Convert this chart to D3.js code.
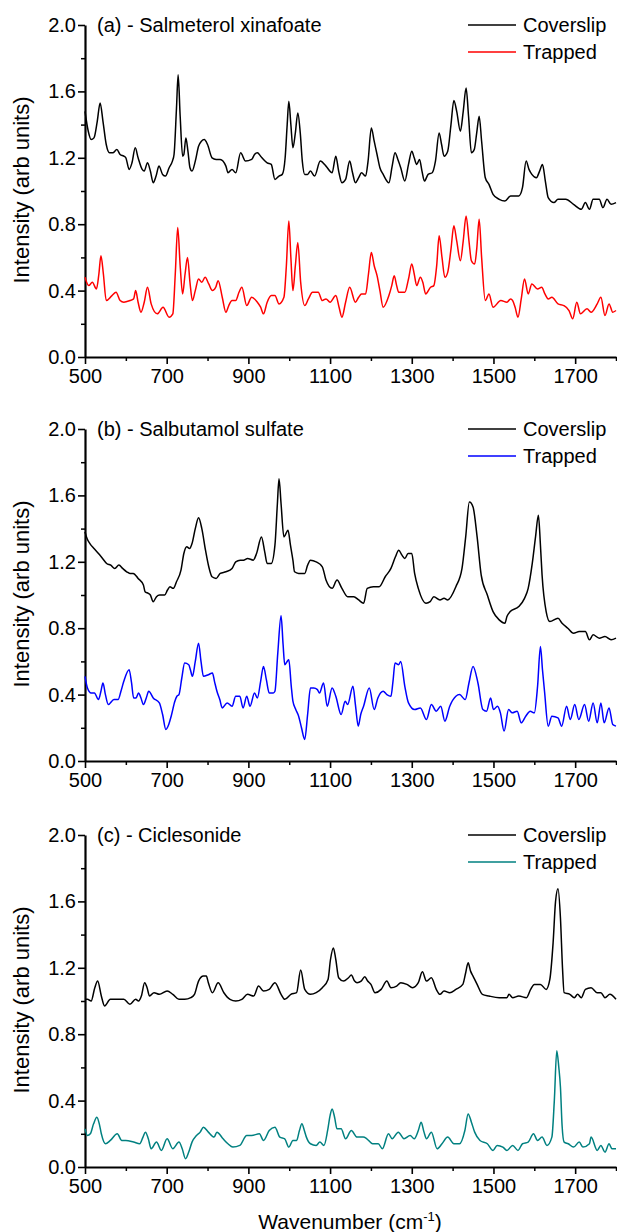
<!DOCTYPE html>
<html>
<head>
<meta charset="utf-8">
<script src="https://cdn.jsdelivr.net/npm/d3@7"></script>
<style>
  html, body { margin: 0; padding: 0; background: #fff; }
  svg text { font-family: "Liberation Sans", Arial, sans-serif; fill: #000; }
</style>
</head>
<body>
<svg id="chart" width="617" height="1232"></svg>
<script>
// ---------- data (wavenumber, intensity) ----------
const xMajorTicks = [500, 700, 900, 1100, 1300, 1500, 1700];
const xMinorTicks = [600, 800, 1000, 1200, 1400, 1600, 1800];
const yMajorTicks = [0.0, 0.4, 0.8, 1.2, 1.6, 2.0];
const yMinorTicks = [0.2, 0.6, 1.0, 1.4, 1.8];
const panelTitles = ["(a) - Salmeterol xinafoate", "(b) - Salbutamol sulfate", "(c) - Ciclesonide"];
const seriesNames = ["Coverslip", "Trapped"];
const trappedColors = ["#ff0000", "#0000ff", "#008080"];

const aCoverslip = [[500,1.48],[508,1.36],[515,1.31],[522,1.32],[530,1.42],[537,1.53],[544,1.42],[552,1.28],[560,1.23],[568,1.23],[578,1.25],[586,1.22],[595,1.21],[600,1.20],[608,1.13],[615,1.17],[623,1.26],[630,1.20],[640,1.13],[645,1.12],[653,1.17],[660,1.12],[667,1.05],[674,1.09],[681,1.15],[690,1.10],[697,1.09],[706,1.14],[714,1.18],[718,1.22],[724,1.50],[728,1.70],[733,1.45],[739,1.21],[742,1.22],[747,1.32],[752,1.24],[757,1.14],[762,1.12],[770,1.18],[778,1.27],[785,1.30],[792,1.31],[800,1.28],[811,1.20],[821,1.19],[831,1.19],[845,1.15],[850,1.11],[860,1.13],[869,1.11],[881,1.23],[893,1.18],[908,1.19],[915,1.22],[922,1.23],[930,1.21],[937,1.19],[946,1.17],[956,1.16],[965,1.07],[975,1.09],[983,1.10],[990,1.20],[995,1.40],[999,1.54],[1004,1.40],[1009,1.26],[1015,1.35],[1021,1.47],[1027,1.35],[1032,1.18],[1038,1.10],[1045,1.10],[1052,1.12],[1062,1.09],[1076,1.18],[1090,1.15],[1105,1.11],[1114,1.21],[1121,1.12],[1129,1.05],[1138,1.07],[1148,1.18],[1155,1.11],[1162,1.05],[1170,1.08],[1177,1.11],[1187,1.09],[1193,1.18],[1201,1.38],[1208,1.30],[1215,1.22],[1222,1.14],[1230,1.10],[1244,1.05],[1252,1.15],[1259,1.23],[1266,1.19],[1273,1.14],[1283,1.06],[1292,1.16],[1300,1.24],[1306,1.20],[1312,1.16],[1319,1.19],[1325,1.12],[1331,1.06],[1340,1.10],[1350,1.11],[1358,1.18],[1367,1.35],[1373,1.28],[1379,1.21],[1388,1.24],[1396,1.40],[1403,1.545],[1410,1.48],[1419,1.36],[1426,1.48],[1433,1.62],[1439,1.45],[1446,1.23],[1453,1.25],[1459,1.35],[1465,1.45],[1471,1.30],[1480,1.08],[1489,1.04],[1499,0.98],[1514,0.95],[1528,0.94],[1542,0.97],[1562,0.97],[1571,1.02],[1580,1.18],[1587,1.13],[1594,1.10],[1605,1.08],[1613,1.12],[1620,1.16],[1627,1.06],[1634,0.96],[1648,0.93],[1658,0.95],[1677,0.95],[1696,0.92],[1715,0.89],[1725,0.93],[1735,0.89],[1744,0.95],[1759,0.95],[1768,0.90],[1778,0.95],[1788,0.92],[1800,0.93]];

const aTrapped = [[500,0.48],[509,0.43],[518,0.45],[528,0.41],[534,0.50],[539,0.61],[545,0.50],[552,0.34],[566,0.37],[576,0.39],[586,0.34],[595,0.33],[610,0.34],[619,0.35],[624,0.40],[630,0.33],[637,0.27],[645,0.33],[653,0.42],[662,0.32],[677,0.26],[691,0.30],[706,0.24],[715,0.26],[721,0.50],[727,0.78],[733,0.55],[739,0.38],[745,0.50],[751,0.60],[757,0.45],[763,0.34],[770,0.40],[778,0.47],[786,0.45],[794,0.48],[803,0.44],[812,0.40],[820,0.42],[826,0.46],[836,0.36],[845,0.27],[852,0.31],[860,0.34],[869,0.34],[877,0.39],[884,0.42],[896,0.31],[908,0.36],[922,0.33],[930,0.30],[937,0.26],[946,0.33],[956,0.37],[965,0.37],[975,0.32],[987,0.36],[993,0.55],[999,0.82],[1004,0.60],[1009,0.40],[1015,0.55],[1021,0.69],[1028,0.45],[1038,0.31],[1047,0.35],[1057,0.39],[1071,0.39],[1081,0.34],[1090,0.35],[1100,0.33],[1114,0.37],[1122,0.30],[1129,0.24],[1138,0.33],[1148,0.42],[1162,0.33],[1170,0.36],[1177,0.38],[1187,0.38],[1194,0.50],[1201,0.63],[1208,0.55],[1215,0.49],[1222,0.40],[1230,0.30],[1244,0.37],[1251,0.43],[1257,0.49],[1263,0.43],[1268,0.39],[1283,0.39],[1292,0.47],[1300,0.56],[1306,0.50],[1312,0.43],[1321,0.48],[1327,0.45],[1334,0.38],[1346,0.42],[1354,0.43],[1361,0.55],[1367,0.73],[1374,0.60],[1381,0.48],[1388,0.51],[1396,0.65],[1403,0.79],[1410,0.70],[1419,0.58],[1426,0.70],[1433,0.85],[1440,0.70],[1446,0.58],[1454,0.56],[1459,0.65],[1465,0.83],[1471,0.60],[1480,0.34],[1489,0.38],[1499,0.30],[1518,0.34],[1533,0.33],[1542,0.35],[1547,0.34],[1553,0.30],[1560,0.24],[1568,0.35],[1576,0.47],[1585,0.38],[1594,0.44],[1608,0.41],[1618,0.42],[1626,0.38],[1634,0.35],[1643,0.36],[1658,0.32],[1672,0.31],[1685,0.28],[1694,0.23],[1704,0.33],[1713,0.26],[1729,0.29],[1739,0.27],[1754,0.32],[1763,0.36],[1773,0.25],[1783,0.32],[1792,0.27],[1800,0.28]];

const bCoverslip = [[500,1.38],[505,1.34],[512,1.31],[522,1.28],[533,1.25],[543,1.22],[553,1.19],[563,1.18],[573,1.16],[583,1.18],[592,1.16],[602,1.14],[610,1.13],[618,1.13],[630,1.10],[643,1.06],[647,1.02],[655,1.01],[660,1.00],[667,0.96],[675,0.99],[683,1.00],[695,1.00],[702,1.03],[708,1.05],[716,1.04],[724,1.08],[735,1.15],[742,1.25],[749,1.29],[756,1.28],[762,1.31],[770,1.40],[778,1.465],[786,1.40],[795,1.27],[803,1.17],[811,1.11],[821,1.10],[831,1.13],[845,1.14],[860,1.16],[869,1.20],[880,1.21],[888,1.21],[898,1.22],[912,1.21],[920,1.25],[932,1.35],[940,1.26],[946,1.19],[956,1.19],[965,1.30],[971,1.55],[975,1.70],[980,1.55],[987,1.35],[997,1.39],[1003,1.30],[1009,1.21],[1013,1.14],[1023,1.13],[1038,1.13],[1045,1.18],[1052,1.21],[1066,1.20],[1081,1.17],[1090,1.09],[1105,1.04],[1117,1.09],[1129,1.04],[1143,0.99],[1158,0.99],[1170,0.97],[1182,0.95],[1191,1.04],[1206,1.05],[1220,1.05],[1235,1.11],[1249,1.16],[1260,1.23],[1268,1.27],[1276,1.24],[1283,1.22],[1291,1.25],[1300,1.25],[1307,1.13],[1316,1.04],[1335,0.95],[1345,0.96],[1354,0.99],[1369,0.97],[1379,0.98],[1388,0.97],[1408,1.05],[1423,1.16],[1432,1.35],[1441,1.56],[1450,1.53],[1460,1.35],[1470,1.12],[1485,1.00],[1499,0.90],[1514,0.85],[1528,0.83],[1533,0.87],[1541,0.90],[1562,0.93],[1576,0.98],[1585,1.04],[1595,1.19],[1603,1.35],[1610,1.48],[1615,1.30],[1619,1.12],[1629,0.90],[1638,0.84],[1658,0.86],[1668,0.83],[1682,0.80],[1696,0.77],[1710,0.78],[1725,0.78],[1735,0.73],[1744,0.76],[1759,0.74],[1773,0.75],[1788,0.73],[1800,0.74]];

const bTrapped = [[500,0.51],[506,0.44],[515,0.41],[523,0.41],[533,0.37],[539,0.42],[544,0.47],[550,0.40],[557,0.34],[571,0.37],[581,0.37],[588,0.42],[595,0.48],[608,0.55],[614,0.47],[619,0.38],[625,0.38],[631,0.41],[637,0.38],[643,0.34],[650,0.38],[656,0.42],[667,0.38],[682,0.35],[690,0.28],[698,0.19],[705,0.22],[711,0.27],[720,0.36],[725,0.39],[730,0.40],[737,0.50],[744,0.59],[754,0.58],[758,0.55],[763,0.51],[770,0.60],[778,0.71],[784,0.60],[790,0.51],[802,0.52],[812,0.53],[817,0.48],[823,0.42],[830,0.37],[836,0.32],[848,0.35],[860,0.33],[869,0.39],[879,0.39],[887,0.32],[896,0.39],[904,0.33],[915,0.41],[922,0.38],[930,0.48],[937,0.57],[944,0.49],[951,0.41],[961,0.41],[965,0.42],[972,0.65],[980,0.875],[985,0.70],[989,0.58],[995,0.60],[999,0.61],[1005,0.45],[1009,0.36],[1016,0.31],[1023,0.27],[1030,0.20],[1038,0.13],[1045,0.28],[1052,0.44],[1060,0.44],[1069,0.43],[1074,0.41],[1084,0.47],[1093,0.33],[1105,0.44],[1114,0.39],[1127,0.28],[1137,0.36],[1143,0.34],[1156,0.45],[1162,0.34],[1169,0.21],[1175,0.28],[1182,0.33],[1196,0.44],[1208,0.31],[1217,0.38],[1230,0.42],[1239,0.40],[1249,0.39],[1254,0.48],[1259,0.59],[1268,0.58],[1273,0.60],[1283,0.45],[1292,0.35],[1307,0.31],[1321,0.32],[1336,0.25],[1348,0.34],[1360,0.30],[1371,0.33],[1381,0.24],[1393,0.33],[1408,0.39],[1417,0.40],[1431,0.37],[1440,0.47],[1450,0.57],[1462,0.47],[1474,0.31],[1483,0.30],[1493,0.38],[1500,0.31],[1510,0.33],[1517,0.29],[1526,0.18],[1537,0.31],[1546,0.29],[1558,0.30],[1568,0.23],[1579,0.27],[1590,0.30],[1600,0.29],[1608,0.45],[1615,0.69],[1620,0.55],[1625,0.42],[1634,0.21],[1643,0.27],[1658,0.26],[1667,0.21],[1679,0.33],[1688,0.25],[1699,0.34],[1709,0.25],[1723,0.34],[1733,0.24],[1744,0.35],[1754,0.23],[1763,0.35],[1771,0.23],[1783,0.32],[1792,0.22],[1800,0.21]];

const cCoverslip = [[500,1.01],[506,1.01],[515,1.00],[524,1.08],[531,1.12],[540,1.03],[548,0.97],[562,1.01],[581,1.01],[595,1.01],[610,0.98],[624,1.01],[631,1.00],[638,1.03],[646,1.11],[652,1.08],[658,1.03],[669,1.05],[682,1.04],[701,1.06],[715,1.04],[730,1.01],[744,1.01],[759,1.02],[768,1.04],[778,1.12],[790,1.15],[797,1.15],[802,1.11],[812,1.05],[826,1.11],[840,1.05],[855,1.01],[869,1.00],[884,1.01],[898,1.04],[913,1.03],[925,1.09],[937,1.06],[951,1.07],[965,1.11],[980,1.04],[989,1.01],[1004,1.04],[1018,1.05],[1028,1.186],[1038,1.07],[1052,1.04],[1066,1.05],[1081,1.08],[1095,1.13],[1101,1.25],[1108,1.32],[1114,1.25],[1121,1.14],[1133,1.12],[1145,1.14],[1152,1.156],[1160,1.12],[1166,1.11],[1176,1.12],[1185,1.146],[1192,1.12],[1200,1.10],[1210,1.05],[1225,1.07],[1239,1.12],[1249,1.08],[1263,1.09],[1273,1.11],[1288,1.10],[1302,1.08],[1316,1.11],[1326,1.176],[1336,1.12],[1348,1.14],[1360,1.07],[1369,1.04],[1379,1.06],[1393,1.05],[1408,1.07],[1425,1.10],[1432,1.17],[1438,1.23],[1444,1.18],[1450,1.15],[1460,1.10],[1473,1.04],[1489,1.03],[1514,1.02],[1533,1.02],[1538,1.04],[1547,1.02],[1562,1.03],[1581,1.02],[1591,1.07],[1600,1.10],[1615,1.10],[1629,1.07],[1638,1.13],[1646,1.35],[1652,1.60],[1658,1.676],[1664,1.50],[1669,1.20],[1673,1.05],[1687,1.04],[1698,1.02],[1706,1.04],[1715,1.02],[1725,1.07],[1739,1.08],[1754,1.05],[1763,1.05],[1773,1.02],[1785,1.04],[1800,1.01]];

const cTrapped = [[500,0.23],[506,0.19],[513,0.20],[521,0.26],[529,0.30],[535,0.26],[540,0.20],[550,0.14],[562,0.16],[579,0.20],[590,0.16],[600,0.16],[619,0.15],[634,0.14],[642,0.18],[648,0.21],[655,0.17],[662,0.11],[675,0.15],[687,0.10],[701,0.17],[715,0.11],[730,0.15],[738,0.11],[746,0.05],[754,0.09],[762,0.15],[773,0.19],[782,0.21],[790,0.24],[802,0.21],[816,0.18],[823,0.21],[838,0.17],[850,0.14],[862,0.12],[879,0.13],[896,0.19],[908,0.19],[927,0.20],[937,0.16],[951,0.22],[965,0.24],[977,0.18],[989,0.17],[999,0.12],[1009,0.16],[1018,0.16],[1025,0.22],[1031,0.26],[1037,0.22],[1042,0.18],[1052,0.14],[1066,0.13],[1075,0.15],[1085,0.13],[1094,0.22],[1100,0.31],[1105,0.35],[1111,0.30],[1117,0.23],[1127,0.23],[1138,0.17],[1152,0.22],[1166,0.18],[1181,0.18],[1190,0.17],[1204,0.14],[1218,0.14],[1228,0.11],[1243,0.20],[1252,0.17],[1267,0.21],[1281,0.17],[1296,0.19],[1306,0.17],[1316,0.22],[1323,0.27],[1330,0.21],[1336,0.17],[1348,0.21],[1362,0.11],[1374,0.14],[1388,0.18],[1403,0.14],[1417,0.14],[1430,0.22],[1438,0.32],[1446,0.27],[1454,0.21],[1467,0.16],[1485,0.14],[1499,0.10],[1509,0.13],[1523,0.12],[1533,0.10],[1547,0.13],[1560,0.10],[1571,0.14],[1585,0.15],[1598,0.20],[1608,0.16],[1619,0.18],[1631,0.13],[1643,0.18],[1649,0.40],[1655,0.70],[1660,0.60],[1664,0.48],[1668,0.25],[1673,0.15],[1683,0.14],[1696,0.12],[1710,0.15],[1719,0.12],[1735,0.14],[1739,0.18],[1754,0.10],[1763,0.13],[1773,0.09],[1783,0.14],[1790,0.11],[1800,0.11]];

const coverslipSeries = [aCoverslip, bCoverslip, cCoverslip];
const trappedSeries = [aTrapped, bTrapped, cTrapped];

// ---------- layout ----------
const svg = d3.select("#chart");
const plotLeft = 85, plotRight = 616;
const panelTops = [25, 429, 835];
const panelH = 332;
const FONT = 20;

const x = d3.scaleLinear().domain([500, 1800]).range([plotLeft, plotRight]);

panelTitles.forEach((title, i) => {
  const top = panelTops[i];
  const y = d3.scaleLinear().domain([0, 2]).range([top + panelH, top]);
  const g = svg.append("g");

  // minor ticks
  g.append("g")
    .attr("transform", `translate(0,${top + panelH})`)
    .call(d3.axisBottom(x).tickValues(xMinorTicks).tickSize(4).tickSizeOuter(0).tickFormat(""))
    .call(s => s.select(".domain").remove())
    .call(s => s.selectAll("line").attr("stroke-width", 1.5));
  g.append("g")
    .attr("transform", `translate(${plotLeft},0)`)
    .call(d3.axisLeft(y).tickValues(yMinorTicks).tickSize(4).tickSizeOuter(0).tickFormat(""))
    .call(s => s.select(".domain").remove())
    .call(s => s.selectAll("line").attr("stroke-width", 1.5));

  // major axes
  const xa = g.append("g")
    .attr("transform", `translate(0,${top + panelH})`)
    .call(d3.axisBottom(x).tickValues(xMajorTicks).tickSize(7).tickSizeOuter(0).tickPadding(5).tickFormat(d3.format("d")));
  const ya = g.append("g")
    .attr("transform", `translate(${plotLeft},0)`)
    .call(d3.axisLeft(y).tickValues(yMajorTicks).tickSize(7).tickSizeOuter(0).tickPadding(2).tickFormat(d3.format(".1f")));
  [xa, ya].forEach(a => {
    a.select(".domain").attr("stroke-width", 2.2);
    a.selectAll("line").attr("stroke-width", 1.6);
    a.selectAll("text").attr("font-size", FONT).attr("font-family", "Liberation Sans, Arial, sans-serif");
  });

  // y axis title
  g.append("text")
    .attr("transform", `translate(29,${top + panelH / 2 - 1}) rotate(-90)`)
    .attr("text-anchor", "middle")
    .attr("font-size", 22)
    .text("Intensity (arb units)");

  // panel title
  g.append("text")
    .attr("x", 97).attr("y", top + 7)
    .attr("font-size", FONT)
    .text(title);

  // lines
  const line = d3.line().x(d => x(d[0])).y(d => y(d[1])).curve(d3.curveMonotoneX);
  g.append("path").datum(trappedSeries[i])
    .attr("fill", "none").attr("stroke", trappedColors[i]).attr("stroke-width", 1.5)
    .attr("stroke-linejoin", "round").attr("d", line);
  g.append("path").datum(coverslipSeries[i])
    .attr("fill", "none").attr("stroke", "#000").attr("stroke-width", 1.5)
    .attr("stroke-linejoin", "round").attr("d", line);

  // legend
  const colors = ["#000", trappedColors[i]];
  seriesNames.forEach((name, k) => {
    const ly = top + k * 27;
    g.append("line").attr("x1", 468).attr("x2", 516).attr("y1", ly).attr("y2", ly)
      .attr("stroke", colors[k]).attr("stroke-width", 1.5);
    g.append("text").attr("x", 523).attr("y", ly + 7).attr("font-size", FONT).text(name);
  });
});

// x axis title
const xt = svg.append("text")
  .attr("x", 350).attr("y", 1229)
  .attr("text-anchor", "middle")
  .attr("font-size", 21);
xt.append("tspan").text("Wavenumber (cm");
xt.append("tspan").attr("font-size", 13).attr("dy", -8).text("-1");
xt.append("tspan").attr("dy", 8).text(")");
</script>
</body>
</html>
